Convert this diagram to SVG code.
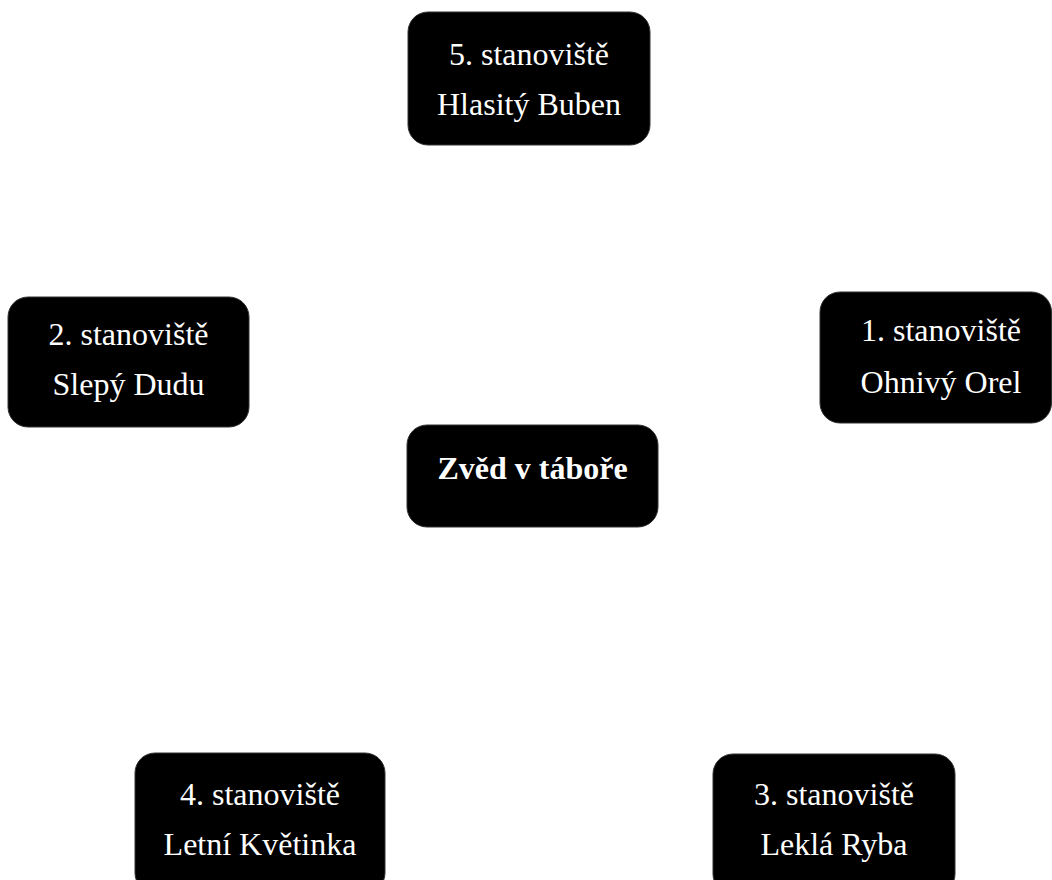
<svg xmlns="http://www.w3.org/2000/svg" width="1052" height="880" viewBox="0 0 1052 880">
<style>
.box{fill:#000;stroke:#333;stroke-width:1}
.t{font-family:"Liberation Serif","Times New Roman",serif;font-size:32px;fill:#fff;text-anchor:middle}
.b{font-weight:bold}
</style>
<rect width="1052" height="880" fill="#fff"/>
<g id="connectors"></g>
<g id="node5">
<rect class="box" x="408" y="12" width="242" height="133" rx="20"/>
<text class="t" x="529" y="65">5. stanoviště</text>
<text class="t" x="529" y="115">Hlasitý Buben</text>
</g>
<g id="node2">
<rect class="box" x="8" y="297" width="241" height="130" rx="20"/>
<text class="t" x="128.5" y="345">2. stanoviště</text>
<text class="t" x="128.5" y="395">Slepý Dudu</text>
</g>
<g id="node1">
<rect class="box" x="820" y="292" width="231.5" height="131" rx="20"/>
<text class="t" x="941" y="341">1. stanoviště</text>
<text class="t" x="941" y="393">Ohnivý Orel</text>
</g>
<g id="center">
<rect class="box" x="407" y="425" width="251" height="102" rx="20"/>
<text class="t b" x="532.5" y="479">Zvěd v táboře</text>
</g>
<g id="node4">
<rect class="box" x="135" y="753" width="250" height="140" rx="20"/>
<text class="t" x="260" y="805">4. stanoviště</text>
<text class="t" x="260" y="855">Letní Květinka</text>
</g>
<g id="node3">
<rect class="box" x="713" y="754" width="242" height="140" rx="20"/>
<text class="t" x="834" y="805">3. stanoviště</text>
<text class="t" x="834" y="855">Leklá Ryba</text>
</g>
</svg>
